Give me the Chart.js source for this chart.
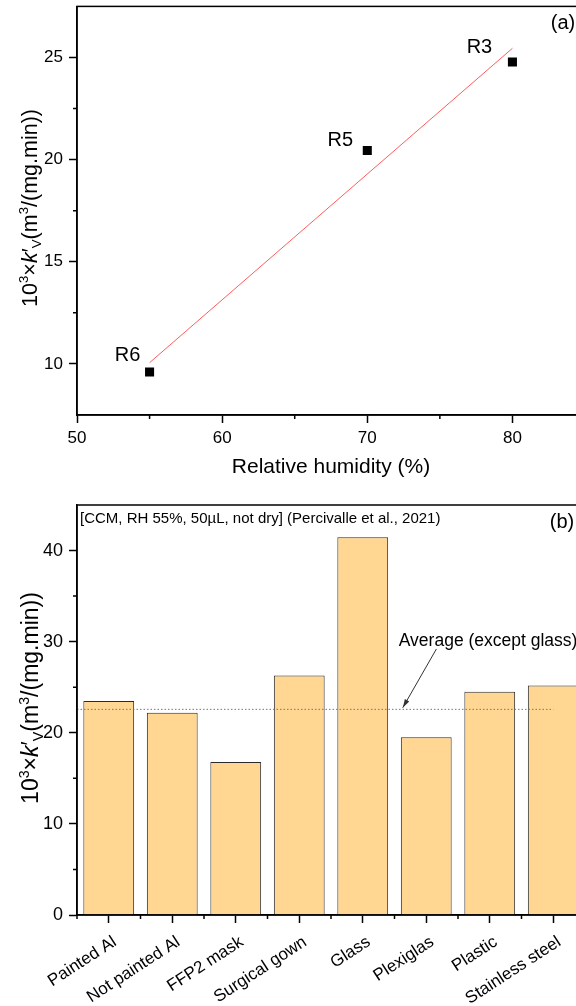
<!DOCTYPE html>
<html>
<head>
<meta charset="utf-8">
<script src="https://cdn.jsdelivr.net/npm/chart.js@4"></script>
<style>
  html, body { margin: 0; padding: 0; background: #fff; overflow: hidden; }
  #wrap { position: relative; width: 576px; height: 1006px; overflow: hidden; }
  canvas { position: absolute; left: 0; }
  #chartA { top: 0; }
  #chartB { top: 490px; }
</style>
</head>
<body>
<div id="wrap">
  <canvas id="chartA" width="600" height="490"></canvas>
  <canvas id="chartB" width="600" height="516"></canvas>
</div>
<script>
// (a) k'V against relative humidity
const humidity = [55, 70, 80];
const kvHumidity = [9.6, 20.45, 24.78];
const runNames = ['R6', 'R5', 'R3'];
const fitHumidity = [55, 80];
const fitKv = [10.06, 25.45];
const humidityTicks = [50, 60, 70, 80];
const kvTicksA = [10, 15, 20, 25];

// (b) k'V for each material
const materials = ['Painted Al', 'Not painted Al', 'FFP2 mask', 'Surgical gown', 'Glass', 'Plexiglas', 'Plastic', 'Stainless steel'];
const kvMaterials = [23.5, 22.2, 16.8, 26.3, 41.45, 19.5, 24.5, 25.2];
const kvTicksB = [0, 10, 20, 30, 40];

const others = kvMaterials.filter((v, i) => materials[i] !== 'Glass');
const averageExceptGlass = others.reduce((a, b) => a + b, 0) / others.length;

const FONT = '"Liberation Sans", Arial, Helvetica, sans-serif';
Chart.defaults.font.family = FONT;
Chart.defaults.color = '#000';

const kvTitle = [
  { t: '10' }, { t: '3', sup: true }, { t: '×' }, { t: 'k', italic: true }, { t: '′' },
  { t: 'V', sub: true }, { t: '(m' }, { t: '3', sup: true }, { t: '/(mg.min))' }
];

function richTitle(ctx, cx, cy, size, parts) {
  const fontFor = p => (p.italic ? 'italic ' : '') + (p.sup || p.sub ? size * 0.62 : size) + 'px ' + FONT;
  let total = 0;
  parts.forEach(p => { ctx.font = fontFor(p); p.w = ctx.measureText(p.t).width; total += p.w; });
  ctx.save();
  ctx.translate(cx, cy);
  ctx.rotate(-Math.PI / 2);
  ctx.fillStyle = '#000';
  ctx.textBaseline = 'alphabetic';
  ctx.textAlign = 'left';
  let x = -total / 2;
  const base = size * 0.36;
  parts.forEach(p => {
    ctx.font = fontFor(p);
    const dy = p.sup ? -size * 0.42 : p.sub ? size * 0.2 : 0;
    ctx.fillText(p.t, x, base + dy);
    x += p.w;
  });
  ctx.restore();
}

// box around the plot, minor ticks and the y title
const framePlugin = {
  id: 'frame',
  afterDraw(chart, args, opts) {
    const { ctx, chartArea: a, scales } = chart;
    ctx.save();
    ctx.strokeStyle = '#000';
    ctx.lineWidth = 1.5;
    ctx.strokeRect(a.left, a.top, a.right - a.left, a.bottom - a.top);
    ctx.beginPath();
    (opts.minorX || []).forEach(v => {
      const x = scales.x.getPixelForValue(v);
      ctx.moveTo(x, a.bottom);
      ctx.lineTo(x, a.bottom + 4);
    });
    (opts.minorY || []).forEach(v => {
      const y = scales.y.getPixelForValue(v);
      ctx.moveTo(a.left, y);
      ctx.lineTo(a.left - 4, y);
    });
    ctx.stroke();
    ctx.restore();
    richTitle(ctx, opts.titleX, opts.titleY, opts.titleSize, kvTitle);
  }
};

const runLabelPlugin = {
  id: 'runLabels',
  afterDatasetsDraw(chart, args, opts) {
    const { ctx, scales, chartArea: a } = chart;
    ctx.save();
    ctx.fillStyle = '#000';
    ctx.font = '20px ' + FONT;
    ctx.textAlign = 'center';
    ctx.textBaseline = 'middle';
    runNames.forEach((name, i) => {
      const off = opts.offsets[i];
      ctx.fillText(name, scales.x.getPixelForValue(humidity[i]) + off[0], scales.y.getPixelForValue(kvHumidity[i]) + off[1]);
    });
    ctx.fillText('(a)', a.right - 22, a.top + 17);
    ctx.restore();
  }
};

const averagePlugin = {
  id: 'average',
  afterDatasetsDraw(chart) {
    const { ctx, scales, chartArea: a } = chart;
    const x = scales.x, y = scales.y;
    const yAvg = y.getPixelForValue(averageExceptGlass);
    ctx.save();
    ctx.strokeStyle = '#777';
    ctx.lineWidth = 1;
    ctx.setLineDash([1.5, 2]);
    ctx.beginPath();
    ctx.moveTo(a.left, yAvg);
    ctx.lineTo(x.getPixelForValue(materials.length - 1), yAvg);
    ctx.stroke();
    ctx.setLineDash([]);

    // arrow from the note down to the line
    const x0 = x.getPixelForValue(5.16), y0 = y.getPixelForValue(29.2);
    const x1 = x.getPixelForValue(4.63), y1 = y.getPixelForValue(22.75);
    ctx.strokeStyle = '#333';
    ctx.fillStyle = '#333';
    ctx.beginPath();
    ctx.moveTo(x0, y0);
    ctx.lineTo(x1, y1);
    ctx.stroke();
    const ang = Math.atan2(y1 - y0, x1 - x0);
    ctx.beginPath();
    ctx.moveTo(x1, y1);
    ctx.lineTo(x1 - 9 * Math.cos(ang - 0.28), y1 - 9 * Math.sin(ang - 0.28));
    ctx.lineTo(x1 - 9 * Math.cos(ang + 0.28), y1 - 9 * Math.sin(ang + 0.28));
    ctx.closePath();
    ctx.fill();

    ctx.fillStyle = '#000';
    ctx.textBaseline = 'middle';
    ctx.textAlign = 'left';
    ctx.font = '17.5px ' + FONT;
    ctx.fillText('Average (except glass)', x.getPixelForValue(4.567), y.getPixelForValue(30.1));
    ctx.font = '15px ' + FONT;
    ctx.fillText('[CCM, RH 55%, 50µL, not dry] (Percivalle et al., 2021)', a.left + 3, a.top + 14);
    ctx.textAlign = 'center';
    ctx.font = '20px ' + FONT;
    ctx.fillText('(b)', a.right - 23, a.top + 17);
    ctx.restore();
  }
};

const axisGrid = { drawOnChartArea: false, tickLength: 8, tickColor: '#000', tickWidth: 1.5 };
const axisBorder = { color: '#000', width: 1.5 };

function fixX(h) {
  return s => { s.height = h; s.paddingLeft = 0; s.paddingRight = 0; };
}
function fixY(w) {
  return s => { s.width = w; s.paddingTop = 0; s.paddingBottom = 0; };
}

new Chart(document.getElementById('chartA'), {
  type: 'scatter',
  data: {
    datasets: [
      {
        data: humidity.map((h, i) => ({ x: h, y: kvHumidity[i] })),
        pointStyle: 'rect',
        pointRadius: 6.4,
        backgroundColor: '#000',
        borderColor: '#000',
        borderWidth: 0,
        order: 0
      },
      {
        type: 'line',
        data: fitHumidity.map((h, i) => ({ x: h, y: fitKv[i] })),
        borderColor: '#ff5c5c',
        borderWidth: 1,
        pointRadius: 0,
        fill: false,
        order: 1
      }
    ]
  },
  options: {
    responsive: false,
    animation: false,
    layout: { padding: { top: 6, right: 15, left: 0, bottom: 0 } },
    plugins: {
      legend: { display: false },
      tooltip: { enabled: false },
      frame: { minorX: [55, 65, 75], minorY: [12.5, 17.5, 22.5], titleX: 29, titleY: 208, titleSize: 21.5 },
      runLabels: { offsets: [[-22, -17], [-27, -10], [-33, -14]] }
    },
    scales: {
      x: {
        type: 'linear', min: 50, max: 85,
        afterBuildTicks: s => { s.ticks = humidityTicks.map(v => ({ value: v })); },
        afterFit: fixX(75),
        grid: axisGrid, border: axisBorder,
        ticks: { font: { size: 17 }, padding: 5, maxRotation: 0 },
        title: { display: true, text: 'Relative humidity (%)', font: { size: 21 }, padding: { top: 0, bottom: 10 } }
      },
      y: {
        min: 7.5, max: 27.5,
        afterBuildTicks: s => { s.ticks = kvTicksA.map(v => ({ value: v })); },
        afterFit: fixY(77),
        grid: axisGrid, border: axisBorder,
        ticks: { font: { size: 17 }, padding: 6 }
      }
    }
  },
  plugins: [framePlugin, runLabelPlugin]
});

new Chart(document.getElementById('chartB'), {
  type: 'bar',
  data: {
    labels: materials,
    datasets: [{
      data: kvMaterials,
      backgroundColor: 'rgb(255, 214, 146)',
      borderColor: '#2a2a2a',
      borderWidth: 1,
      barPercentage: 0.8,
      categoryPercentage: 1
    }]
  },
  options: {
    responsive: false,
    animation: false,
    layout: { padding: { top: 15, right: 15, left: 0, bottom: 0 } },
    plugins: {
      legend: { display: false },
      tooltip: { enabled: false },
      frame: { minorX: [-0.5, 0.5, 1.5, 2.5, 3.5, 4.5, 5.5, 6.5], minorY: [5, 15, 25, 35], titleX: 30, titleY: 208, titleSize: 23 }
    },
    scales: {
      x: {
        afterFit: fixX(91),
        grid: Object.assign({}, axisGrid, { offset: false }),
        border: axisBorder,
        ticks: { font: { size: 17 }, padding: 9, labelOffset: 6, minRotation: 33, maxRotation: 33, autoSkip: false }
      },
      y: {
        min: 0, max: 45,
        afterBuildTicks: s => { s.ticks = kvTicksB.map(v => ({ value: v })); },
        afterFit: fixY(77),
        grid: axisGrid, border: axisBorder,
        ticks: { font: { size: 18 }, padding: 6 }
      }
    }
  },
  plugins: [framePlugin, averagePlugin]
});
</script>
</body>
</html>
